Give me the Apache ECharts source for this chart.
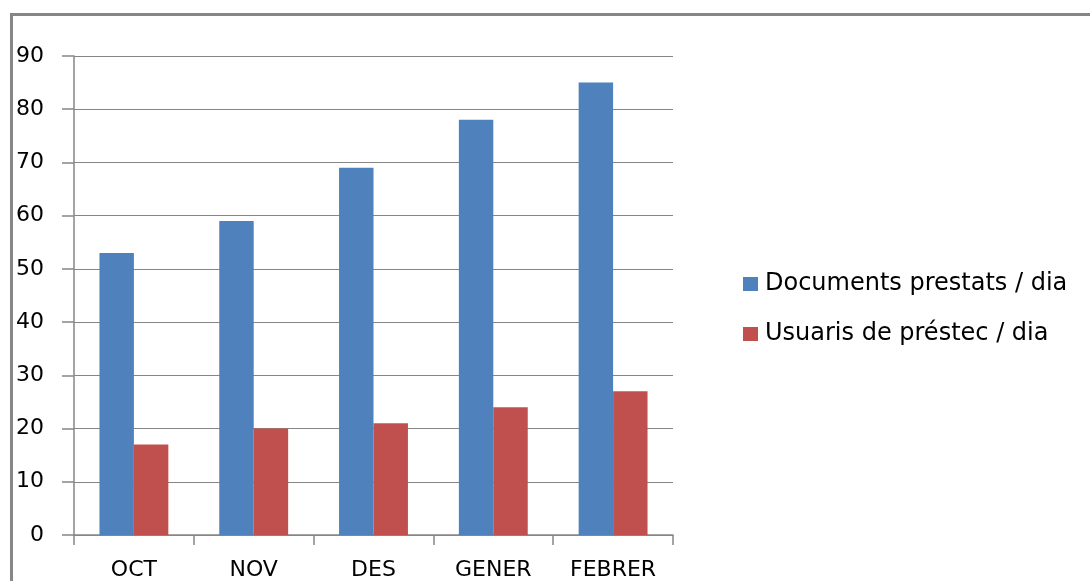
<!DOCTYPE html>
<html><head><meta charset="utf-8">
<script src="https://cdn.jsdelivr.net/npm/echarts@6/dist/echarts.min.js"></script>
<style>html,body{margin:0;padding:0;background:#fff}#c{width:1090px;height:581px}</style>
</head><body><div id="c"></div>
<script>
const categories = ['OCT', 'NOV', 'DES', 'GENER', 'FEBRER'];
const seriesNames = ['Documents prestats / dia', 'Usuaris de préstec / dia'];
const documentsPrestats = [53, 59, 69, 78, 85];
const usuarisPrestec = [17, 20, 21, 24, 27];
const yTicks = [0, 10, 20, 30, 40, 50, 60, 70, 80, 90];

const chart = echarts.init(document.getElementById('c'), null, {renderer: 'canvas'});
const font = 'DejaVu Sans';
chart.setOption({
  animation: false,
  backgroundColor: '#fff',
  graphic: [{
    type: 'rect', left: 9, top: 12, silent: true,
    shape: {width: 1100, height: 600},
    style: {fill: 'none', stroke: '#868686', lineWidth: 3}
  }],
  grid: {left: 74, top: 56, width: 599, height: 480, containLabel: false},
  legend: {
    orient: 'vertical', left: 738, top: 267,
    itemWidth: 15, itemHeight: 14, itemGap: 26,
    icon: 'rect',
    textStyle: {fontFamily: font, fontSize: 24, color: '#000', lineHeight: 24, padding: [0,0,0,2]},
    data: seriesNames
  },
  xAxis: {
    type: 'category', data: categories,
    axisLine: {lineStyle: {color: '#868686', width: 1.5}},
    axisTick: {show: true, length: 10, lineStyle: {color: '#868686', width: 1.5}},
    axisLabel: {fontFamily: font, fontSize: 22, color: '#000', margin: 24}
  },
  yAxis: {
    type: 'value', min: yTicks[0], max: yTicks[yTicks.length-1], interval: 10,
    axisLine: {show: true, lineStyle: {color: '#868686', width: 1.5}},
    axisTick: {show: true, length: 12, lineStyle: {color: '#868686', width: 1.5}},
    splitLine: {lineStyle: {color: '#868686', width: 1.2}},
    axisLabel: {fontFamily: font, fontSize: 22, color: '#000', margin: 30}
  },
  series: [
    {name: seriesNames[0], type: 'bar', data: documentsPrestats, itemStyle: {color: '#4F81BD'}, barGap: '0%', barCategoryGap: '42.5%'},
    {name: seriesNames[1], type: 'bar', data: usuarisPrestec, itemStyle: {color: '#C0504D'}, barGap: '0%', barCategoryGap: '42.5%'}
  ]
});
</script></body></html>
